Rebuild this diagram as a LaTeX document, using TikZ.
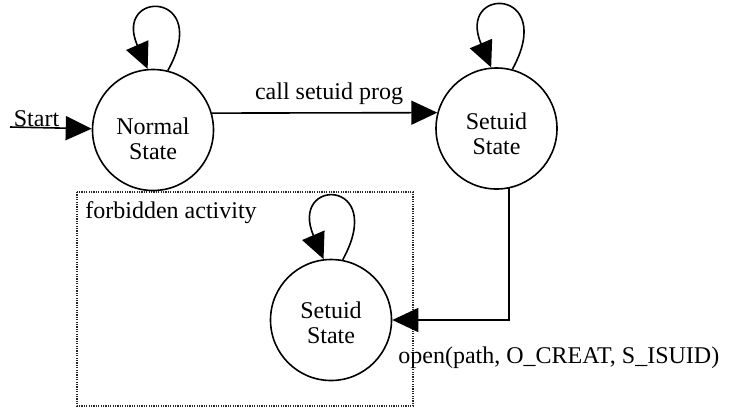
\documentclass[tikz,border=0pt]{standalone}
\usepackage{fontspec}
\setmainfont{Liberation Serif}
\usetikzlibrary{arrows.meta}
\begin{document}
\begin{tikzpicture}[x=0.5pt,y=-0.5pt,
  statebox/.style={circle,draw,line width=0.8pt,minimum size=60.5pt,inner sep=0pt},
  lbl/.style={font=\fontsize{12}{12.5}\selectfont,inner sep=0pt},
  statetext/.style={lbl,align=center},
  arr/.style={line width=0.8pt,-{Triangle[length=13pt,width=12pt]}},
  zone/.style={line width=0.6pt,black!85,dash pattern=on 0.6pt off 0.6pt}]
\path[use as bounding box] (0,0) rectangle (737,408);

% forbidden activity zone
\draw[zone] (77,192) rectangle (413,406);
\node[lbl,anchor=west] (zl) at (85,213) {forbidden activity};

% states
\node[statebox] (n) at (153,130) {};
\node[statetext] (nt) at (153,139) {Normal\\State};
\node[statebox] (s1) at (496.5,128.5) {};
\node[statetext] (s1t) at (496.5,134) {Setuid\\State};
\node[statebox] (s2) at (331,320) {};
\node[statetext] (s2t) at (331,322.5) {Setuid\\State};

% start
\coordinate (st) at (10,127);
\draw[arr] (st) -- (n);
\node[lbl] (stl) at (36.5,118.5) {Start};

% call setuid prog
\draw[arr] (n.16) -- (s1.165);
\node[lbl] (cl) at (329,94) {call setuid prog};

% open
\draw[arr] (s1.-78) |- (s2.east);
\node[lbl,anchor=west] (ol) at (398,358) {open(path, O\_CREAT, S\_ISUID)};

% self loops
\draw[arr] (n.76) .. controls +(45,-80) and +(-35,-80) .. (n.95);
\draw[arr] (s1.75) .. controls +(45,-82) and +(-35,-82) .. (s1.95);
\draw[arr] (s2.79) .. controls +(45,-82) and +(-35,-82) .. (s2.97);
\end{tikzpicture}
\end{document}
